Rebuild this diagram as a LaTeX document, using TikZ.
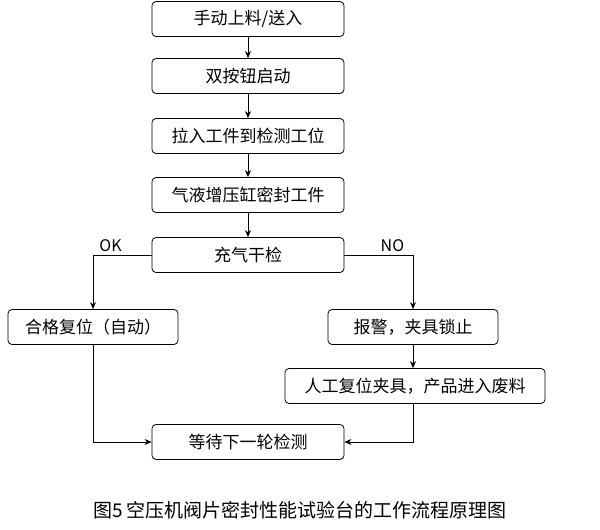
\documentclass[tikz,border=0pt]{standalone}
\usepackage{fontspec}
\setmainfont{Noto Sans CJK SC}
\usetikzlibrary{positioning, arrows.meta}

\begin{document}
\begin{tikzpicture}[
        x=1pt, y=-1pt,
        box/.style={draw, thick, rounded corners=4pt, minimum height=35pt, align=center, font=\fontsize{17}{19}\selectfont},
        arrow/.style={draw, thick, -{Stealth[length=7pt,width=6pt]}}
    ]
    \useasboundingbox (0,0) rectangle (600,530);

    % Hauptablauf
    \node (load) [box, minimum width=192pt] at (248,19) {手动上料/送入};
    \node (start) [box, minimum width=192pt] at (248,76) {双按钮启动};
    \node (pull) [box, minimum width=192pt] at (248,136) {拉入工件到检测工位};
    \node (seal) [box, minimum width=192pt] at (248,195) {气液增压缸密封工件};
    \node (check) [box, minimum width=192pt] at (248,255) {充气干检};
    \node (reset) [box, minimum width=170pt] at (93,327) {合格复位（自动）};
    \node (alarm) [box, minimum width=170pt] at (413,327) {报警，夹具锁止};
    \node (manual) [box, minimum width=260pt] at (415,386) {人工复位夹具，产品进入废料};
    \node (wait) [box, minimum width=192pt] at (248,442) {等待下一轮检测};

    % Verbindungen
    \draw[arrow] (load) -- (start);
    \draw[arrow] (start) -- (pull);
    \draw[arrow] (pull) -- (seal);
    \draw[arrow] (seal) -- (check);
    \draw[arrow] (check.west) -| node[pos=0.35, above, font=\fontsize{16}{18}\selectfont] {OK} (reset.north);
    \draw[arrow] (check.east) -| node[pos=0.35, above, font=\fontsize{16}{18}\selectfont] {NO} (alarm.north);
    \draw[arrow] (alarm) -- (manual.north -| alarm.south);
    \draw[arrow] (reset.south) |- (wait.west);
    \draw[arrow] (manual.south -| alarm.south) |- (wait.east);

    \node (caption) [font=\fontsize{19}{21}\selectfont] at (300,510) {图5\ 空压机阀片密封性能试验台的工作流程原理图};
\end{tikzpicture}
\end{document}
